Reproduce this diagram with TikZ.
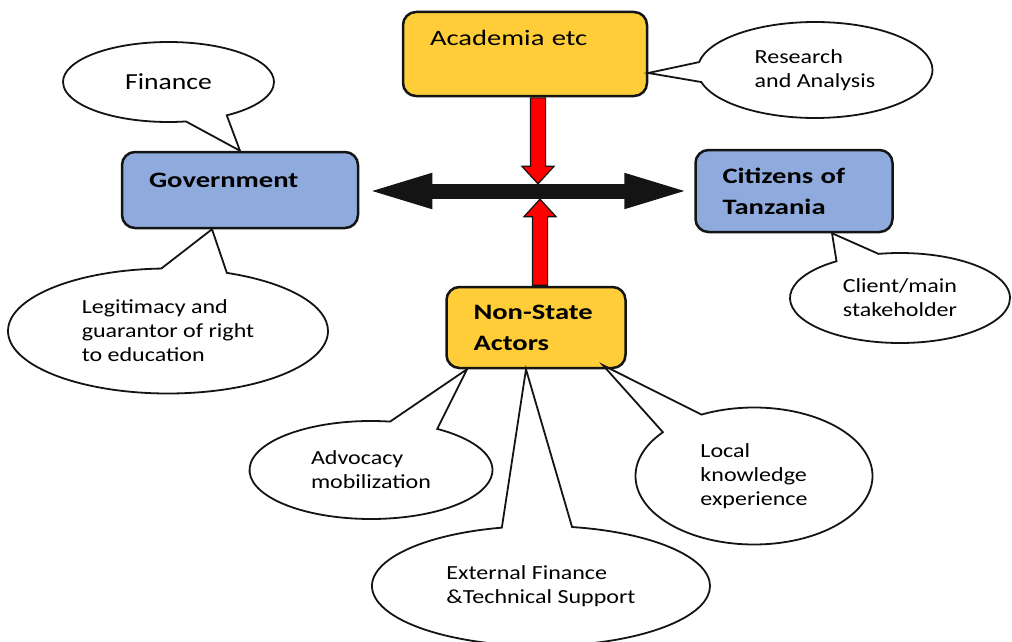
\documentclass[tikz,border=0pt]{standalone}
\usepackage{fontspec}
\setmainfont{Carlito}
\newfontfamily\boxfont[FakeStretch=1.3]{Carlito}
\newfontfamily\notefont[FakeStretch=1.2]{Carlito}
\usetikzlibrary{
  arrows.meta,
  calc,
  positioning,
  shapes.arrows,
  shapes.callouts,
}
\definecolor{boxblue}{RGB}{143, 170, 220}
\definecolor{boxgold}{RGB}{254, 205, 56}
\definecolor{outline}{RGB}{20, 20, 20}
\tikzstyle{bigarrow} = [
  {Triangle[length=68pt,width=31pt]}-{Triangle[length=68pt,width=31pt]},
  line width=15pt,
  outline,
]
\tikzstyle{redarrow} = [
  single arrow,
  draw=outline,
  fill=red,
  line width=1.2pt,
  minimum height=86pt,
  single arrow head extend=8.5pt,
  single arrow tip angle=85,
  inner sep=7pt,
]
\tikzstyle{note} = [
  ellipse callout,
  draw=outline,
  fill=white,
  line width=1.8pt,
  inner sep=0pt,
  callout pointer arc=24,
  align=left,
  font=\notefont\fontsize{20}{24}\selectfont,
]

\begin{document}
\begin{tikzpicture}[x=1pt, y=-1pt,
                    box/.style={draw=outline, line width=2.5pt,
                                rounded corners=13pt,
                                inner xsep=27pt, inner ysep=0pt,
                                align=left,
                                font=\boxfont\fontsize{22}{31}\selectfont}]
    \useasboundingbox (0,0) rectangle (1012,642);
    \coordinate (hub) at (538,191);
    \node [box, fill=boxgold, text width=190pt, minimum height=84pt,
           text height=16pt, text depth=32pt] (acad) at (525,54)
          {Academia etc};
    \node [box, fill=boxblue, text width=182pt, minimum height=76pt,
           text height=16pt, text depth=22pt] (gov) at (240,190)
          {\bfseries Government};
    \node [box, fill=boxblue, text width=143pt, minimum height=82pt]
          (cit) at (794,191) {\bfseries Citizens of\\ \bfseries Tanzania};
    \node [box, fill=boxgold, text width=125pt, minimum height=81pt]
          (nsa) at (536,327.5) {\bfseries Non-State\\ \bfseries Actors};
    \draw [bigarrow, shorten <=5pt, shorten >=2pt]
          (gov.east |- hub) -- (cit.west |- hub);
    \node [redarrow, shape border rotate=270, anchor=tail] (down)
          at (hub |- acad.south) {};
    \node [redarrow, shape border rotate=90, anchor=tail] (up)
          at ($(hub |- nsa.north)+(2,0)$) {};
    \node [note, minimum width=211pt, minimum height=80pt,
           font=\notefont\fontsize{23}{27}\selectfont,
           callout absolute pointer={(gov.north)}] (fin)
          at (168.5,82) {Finance};
    \node [note, minimum width=235pt, minimum height=96pt,
           callout absolute pointer={($(acad.east)+(0,19)$)}] (res)
          at (815,70) {Research\\and Analysis};
    \node [note, minimum width=320pt, minimum height=125pt,
           callout absolute pointer={($(gov.south)+(-28,0)$)}] (legit)
          at (168,331) {Legitimacy and\\guarantor of right\\to education};
    \node [note, minimum width=220pt, minimum height=90pt,
           callout absolute pointer={($(cit.south)+(38,0)$)}] (client)
          at (900,298) {Client/main\\stakeholder};
    \node [note, minimum width=243pt, minimum height=98pt,
           callout absolute pointer={($(nsa.south)+(-69,0)$)}] (advoc)
          at (371,470) {Advocacy\\mobilization};
    \node [note, minimum width=338pt, minimum height=120pt,
           callout absolute pointer={($(nsa.south)+(-10,0)$)}] (extfin)
          at (541,586) {External Finance\\\&Technical Support};
    \node [note, minimum width=237pt, minimum height=137pt,
           callout absolute pointer={($(nsa.south)+(67,-4)$)}] (local)
          at (754,476) {Local\\knowledge\\experience};
\end{tikzpicture}
\end{document}
